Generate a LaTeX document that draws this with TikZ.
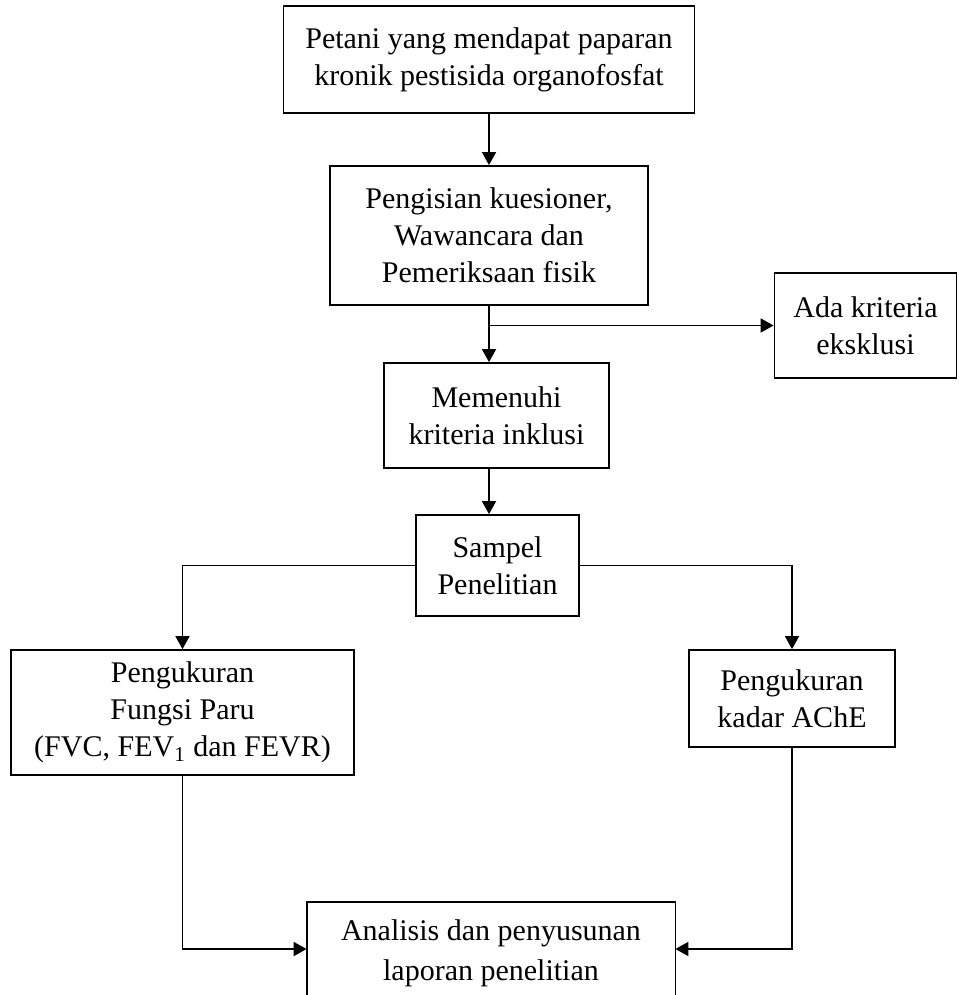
\documentclass[tikz,border=0pt]{standalone}
\usepackage{fontspec}
\setmainfont{Liberation Serif}
\usetikzlibrary{arrows.meta}
\begin{document}
\begin{tikzpicture}[x=0.5pt,y=-0.5pt,
  box/.style={draw,line width=0.9pt,align=center,inner sep=0pt,
    font=\fontsize{15}{18.5}\selectfont},
  plain/.style={align=center,inner sep=0pt,font=\fontsize{15}{20}\selectfont},
  conn/.style={line width=0.9pt},
  arr/.style={line width=0.9pt,-{Triangle[length=6.5pt,width=7pt]}}]
\useasboundingbox (0,0) rectangle (958,995);

\node[box,minimum width=205.5pt,minimum height=53.5pt] (b1) at (489,59.5)
  {Petani yang mendapat paparan\\kronik pestisida organofosfat};
\node[box,minimum width=159pt,minimum height=69.5pt] (b2) at (489,235.5)
  {Pengisian kuesioner,\\Wawancara dan\\Pemeriksaan fisik};
\node[box,minimum width=112.5pt,minimum height=52.5pt] (b3) at (496.5,415.5)
  {Memenuhi\\kriteria inklusi};
\node[box,minimum width=91pt,minimum height=52.5pt] (b4) at (865.5,325.5)
  {Ada kriteria\\eksklusi};
\node[box,minimum width=81.5pt,minimum height=50.5pt] (b5) at (497.5,565.5)
  {Sampel\\Penelitian};
\node[box,minimum width=171.5pt,minimum height=62.5pt] (b6) at (182.5,712.5)
  {Pengukuran\\Fungsi Paru\\(FVC, FEV\textsubscript{1} dan FEVR)};
\node[box,minimum width=103pt,minimum height=48.5pt] (b7) at (792,698.5)
  {Pengukuran\\kadar AChE};
\node[minimum width=184pt,minimum height=47pt,inner sep=0pt] (b8) at (491,949) {};
\node[plain] (t8) at (491,953) {Analisis dan penyusunan\\laporan penelitian};
\draw[conn] (b8.south west) -- (b8.north west) -- (b8.north east) -- (b8.south east);

\coordinate (j1) at (b2.south |- b4.west);
\draw[arr] (b1.south) -- (b1.south |- b2.north);
\draw[arr] (b2.south) -- (b2.south |- b3.north);
\draw[arr] (j1) -- (b4.west);
\draw[arr] (b3.south -| b2.south) -- (b5.north -| b2.south);
\draw[arr] (b5.west) -| (b6.north);
\draw[arr] (b5.east) -| (b7.north);
\draw[arr] (b6.south) |- (b8.west);
\draw[arr] (b7.south) |- (b8.east);
\end{tikzpicture}
\end{document}
